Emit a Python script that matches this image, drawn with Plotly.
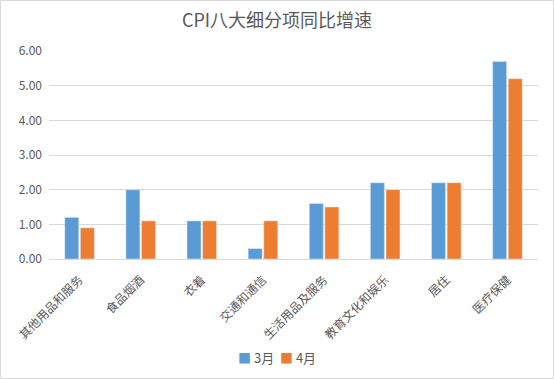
import plotly.graph_objects as go

categories = ["其他用品和服务", "食品烟酒", "衣着", "交通和通信", "生活用品及服务", "教育文化和娱乐", "居住", "医疗保健"]
march = [1.2, 2.0, 1.1, 0.3, 1.6, 2.2, 2.2, 5.7]
april = [0.9, 1.1, 1.1, 1.1, 1.5, 2.0, 2.2, 5.2]
y_ticks = [0, 1, 2, 3, 4, 5, 6]
series_names = ["3月", "4月"]
colors = ["#5B9BD5", "#ED7D31"]

font = "Noto Sans CJK SC, Microsoft YaHei, sans-serif"

fig = go.Figure()
fig.add_trace(go.Bar(name=series_names[0], x=categories, y=march, marker_color=colors[0]))
fig.add_trace(go.Bar(name=series_names[1], x=categories, y=april, marker_color=colors[1]))

W, H = 554, 379
ml, mr, mt, mb = 49, 16, 51, 120
pw, ph = W - ml - mr, H - mt - mb

fig.update_layout(
    width=W, height=H,
    margin=dict(l=ml, r=mr, t=mt, b=mb, autoexpand=False),
    paper_bgcolor="white", plot_bgcolor="white",
    font=dict(family=font, color="#595959", size=12),
    title=dict(text="CPI八大细分项同比增速", x=0.5, xanchor="center", y=1 - 21 / H, yanchor="middle",
               font=dict(size=18, color="#595959", family=font)),
    barmode="group", bargap=0.49, bargroupgap=0.1,
    showlegend=False,
    xaxis=dict(tickangle=-45, showgrid=False, showline=True, linecolor="#d9d9d9", linewidth=1,
               ticks="", automargin=False, ticklabelstandoff=8,
               tickfont=dict(size=12, color="#595959")),
    yaxis=dict(range=[0, 6], tickvals=y_ticks, tickformat=".2f", showgrid=True, gridcolor="#d9d9d9",
               gridwidth=1, zeroline=False, showline=False, ticks="", automargin=False,
               ticklabelstandoff=6, tickfont=dict(size=12, color="#595959")),
)

legend_text = "  ".join(
    f"<span style='color:{c}'>■</span> {n}" for c, n in zip(colors, series_names)
)
fig.add_annotation(xref="paper", yref="paper", x=(W / 2 - ml) / pw, y=(mt + ph - 357) / ph,
                   xanchor="center", yanchor="middle", showarrow=False, text=legend_text,
                   font=dict(size=13, color="#595959", family=font))

# outer chart border
fig.add_shape(type="rect", xref="paper", yref="paper",
              x0=(0.5 - ml) / pw, x1=(W - 0.5 - ml) / pw,
              y0=-(mb - 0.5) / ph, y1=1 + (mt - 0.5) / ph,
              line=dict(color="#d9d9d9", width=1), fillcolor="rgba(0,0,0,0)", layer="below")

fig.write_html("out.html", config={"displayModeBar": False},
               post_script="document.body.style.margin='0px';document.body.style.padding='0px';")
